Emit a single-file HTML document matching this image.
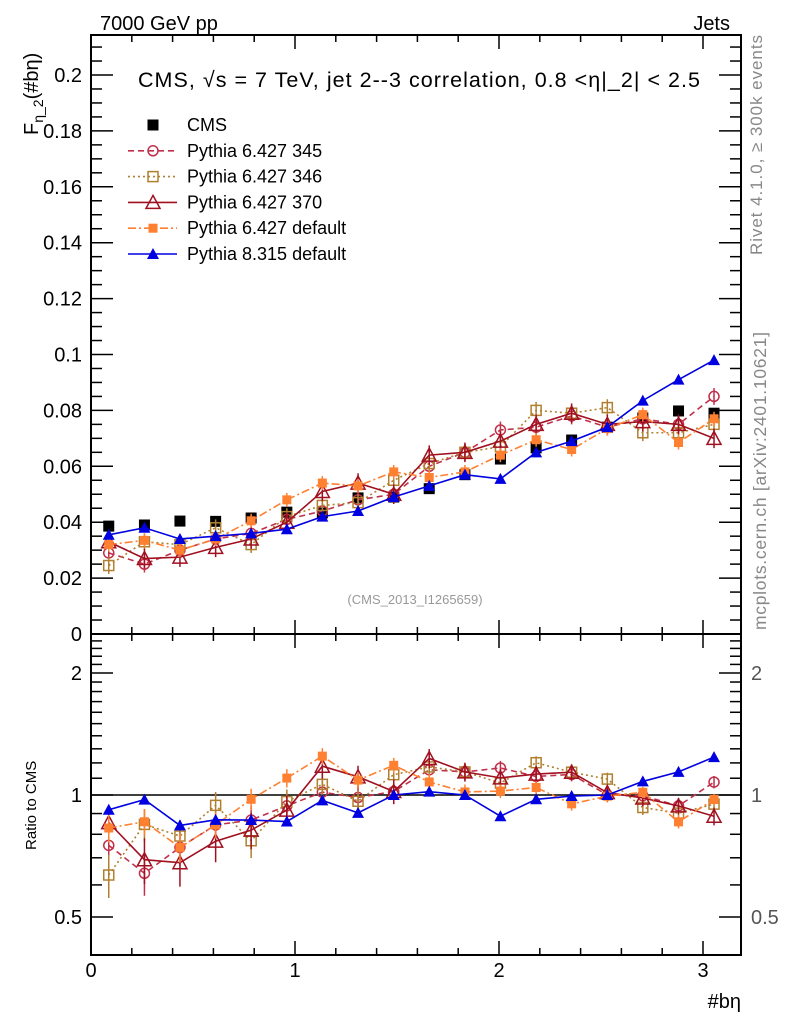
<!DOCTYPE html>
<html><head><meta charset="utf-8"><style>
body{margin:0;background:#fff}
svg{display:block;font-family:"Liberation Sans",sans-serif}
</style></head><body>
<svg id="c" width="786" height="1024" viewBox="0 0 786 1024">
<text x="100" y="30" font-size="20">7000 GeV pp</text>
<text x="730" y="30" font-size="20" text-anchor="end">Jets</text>
<text x="138" y="87" font-size="21.5" textLength="562">CMS, √s = 7 TeV, jet 2--3 correlation, 0.8 &lt;η|_2| &lt; 2.5</text>
<text x="415" y="604" font-size="13" fill="#999" text-anchor="middle">(CMS_2013_I1265659)</text>
<text transform="translate(762,255) rotate(-90)" font-size="17" fill="#888" textLength="220">Rivet 4.1.0, ≥ 300k events</text>
<text transform="translate(766,630) rotate(-90)" font-size="17.5" fill="#888" textLength="298">mcplots.cern.ch [arXiv:2401.10621]</text>
<text transform="translate(38,135) rotate(-90)" font-size="20">F<tspan font-size="14" dy="5">η_2</tspan><tspan dy="-5">(#bη)</tspan></text>
<text transform="translate(36,850) rotate(-90)" font-size="15">Ratio to CMS</text>
<text x="741" y="1008" font-size="20" text-anchor="end">#bη</text>
<g id="g"></g>
</svg>
<script>
const xCenters=[0.087,0.262,0.436,0.611,0.785,0.960,1.134,1.309,1.484,1.658,1.833,2.007,2.182,2.356,2.531,2.705,2.880,3.054];
const cms=[0.0386,0.039,0.0404,0.0403,0.0415,0.0436,0.0433,0.0487,0.049,0.052,0.057,0.0626,0.0666,0.0694,0.074,0.0773,0.0798,0.079];
const p345=[0.029,0.025,0.030,0.034,0.036,0.041,0.044,0.048,0.050,0.060,0.065,0.073,0.074,0.078,0.074,0.077,0.075,0.085];
const p346=[0.0245,0.033,0.032,0.038,0.032,0.042,0.046,0.047,0.055,0.061,0.065,0.067,0.080,0.079,0.081,0.072,0.072,0.075];
const p370=[0.033,0.027,0.0275,0.031,0.034,0.040,0.051,0.054,0.050,0.064,0.065,0.069,0.075,0.079,0.075,0.076,0.075,0.070];
const p6def=[0.032,0.0335,0.030,0.034,0.0405,0.048,0.054,0.053,0.058,0.056,0.058,0.064,0.0695,0.066,0.0735,0.0785,0.0685,0.077];
const p8def=[0.0355,0.038,0.034,0.035,0.036,0.0375,0.042,0.044,0.049,0.053,0.057,0.0555,0.065,0.069,0.074,0.0835,0.091,0.098];
const yTicks=[0,0.02,0.04,0.06,0.08,0.1,0.12,0.14,0.16,0.18,0.2];
const yTickLabels=["0","0.02","0.04","0.06","0.08","0.1","0.12","0.14","0.16","0.18","0.2"];
const xTicks=[0,1,2,3];
const rTicks=[0.5,1,2];
const errMC=[0.003,0.003,0.0035,0.0025,0.001];

const NS="http://www.w3.org/2000/svg";
const g=document.getElementById('g');
const X0=91,X1=741,T0=35,T1=634,B1=955;
const sx=v=>X0+v*204;
const sy=v=>634-v*2795;
const sr=v=>795-Math.log2(v)*122;
function el(t,a,p){const e=document.createElementNS(NS,t);for(const k in a)e.setAttribute(k,a[k]);(p||g).appendChild(e);return e;}

let f1=el('rect',{x:X0,y:T0,width:X1-X0,height:T1-T0,fill:'none',stroke:'#000','stroke-width':2});


let f2=el('rect',{x:X0,y:T1,width:X1-X0,height:B1-T1,fill:'none',stroke:'#000','stroke-width':2});


let ref=el('line',{x1:X0,x2:X1,y1:sr(1),y2:sr(1),stroke:'#000','stroke-width':1.5});



for(let v=0;v<=3.2;v+=0.2){
  const major=Math.abs(v-Math.round(v))<1e-6;const L=major?14:7;const x=sx(v);
  if(x>X1)break;
  for(const [yb,dir] of [[T1,-1],[T0,1],[B1,-1],[T1,1]]) el('line',{x1:x,x2:x,y1:yb,y2:yb+dir*L,stroke:'#000','stroke-width':1.5});
}
xTicks.forEach(v=>{const t=el('text',{x:sx(v),y:977,'font-size':20,'text-anchor':'middle'});t.textContent=v;

});
for(let v=0;v<=0.215;v+=0.005){const y=sy(v);const major=Math.abs(v/0.02-Math.round(v/0.02))<1e-6;const L=major?22:11;
  el('line',{x1:X0,x2:X0+L,y1:y,y2:y,stroke:'#000','stroke-width':1.5});
  el('line',{x1:X1,x2:X1-L,y1:y,y2:y,stroke:'#000','stroke-width':1.5});}
yTicks.forEach((v,i)=>{const t=el('text',{x:82,y:sy(v)+7,'font-size':20,'text-anchor':'end'});t.textContent=yTickLabels[i];

});
for(let v=0.4;v<=2.5;v+=0.1){const y=sr(v);if(y<T1||y>B1)continue;const major=[0.5,1,2].some(m=>Math.abs(m-v)<1e-6);const L=major?22:11;
  el('line',{x1:X0,x2:X0+L,y1:y,y2:y,stroke:'#000','stroke-width':1.5});
  el('line',{x1:X1,x2:X1-L,y1:y,y2:y,stroke:'#000','stroke-width':1.5});}
rTicks.forEach(v=>{let t=el('text',{x:82,y:sr(v)+7,'font-size':20,'text-anchor':'end'});t.textContent=v;


t=el('text',{x:751,y:sr(v)+7,'font-size':20,fill:'#555'});t.textContent=v;

});

function marker(p,type,x,y,col){
  if(type==='fsq')el('rect',{x:x-5.5,y:y-5.5,width:11,height:11,fill:col},p);
  else if(type==='osq')el('rect',{x:x-5,y:y-5,width:10,height:10,fill:'none',stroke:col,'stroke-width':1.5},p);
  else if(type==='oc')el('circle',{cx:x,cy:y,r:5,fill:'none',stroke:col,'stroke-width':1.5},p);
  else if(type==='otri')el('path',{d:`M${x} ${y-7}L${x+7} ${y+6}L${x-7} ${y+6}Z`,fill:'none',stroke:col,'stroke-width':1.5},p);
  else if(type==='ftri')el('path',{d:`M${x} ${y-6}L${x+6} ${y+5}L${x-6} ${y+5}Z`,fill:col},p);
  else if(type==='fsqs')el('rect',{x:x-4.5,y:y-4.5,width:9,height:9,fill:col},p);
}
const series=[
 {name:'pythia-6427-345',label:'Pythia 6.427 345',d:p345,col:'#c0304a',m:'oc',dash:'6,4'},
 {name:'pythia-6427-346',label:'Pythia 6.427 346',d:p346,col:'#b08030',m:'osq',dash:'2,3'},
 {name:'pythia-6427-370',label:'Pythia 6.427 370',d:p370,col:'#a01020',m:'otri',dash:''},
 {name:'pythia-6427-default',label:'Pythia 6.427 default',d:p6def,col:'#ff8030',m:'fsqs',dash:'8,3,2,3'},
 {name:'pythia-8315-default',label:'Pythia 8.315 default',d:p8def,col:'#0000e0',m:'ftri',dash:''}
];
const cg=el('g',{});


cms.forEach((v,i)=>marker(cg,'fsq',sx(xCenters[i]),sy(v),'#000'));
series.forEach((s,si)=>{
  const gg=el('g',{});
  
  
  const rg=el('g',{});
  
  
  const pts=s.d.map((v,i)=>[sx(xCenters[i]),sy(v)]);
  const rpts=s.d.map((v,i)=>[sx(xCenters[i]),sr(v/cms[i])]);
  el('polyline',{points:pts.map(p=>p.join(',')).join(' '),fill:'none',stroke:s.col,'stroke-width':1.6,'stroke-dasharray':s.dash},gg);
  el('polyline',{points:rpts.map(p=>p.join(',')).join(' '),fill:'none',stroke:s.col,'stroke-width':1.6,'stroke-dasharray':s.dash},rg);
  const e=errMC[si];
  s.d.forEach((v,i)=>{
    const x=sx(xCenters[i]);
    el('line',{x1:x,x2:x,y1:sy(v-e),y2:sy(v+e),stroke:s.col,'stroke-width':1.5},gg);
    const r=v/cms[i], re=e/cms[i];
    el('line',{x1:x,x2:x,y1:sr(Math.max(r-re,0.3)),y2:sr(r+re),stroke:s.col,'stroke-width':1.5},rg);
    marker(gg,s.m,x,sy(v),s.col);
    marker(rg,s.m,x,sr(r),s.col);
  });
});
const lg=el('g',{});


const ents=[{label:'CMS',col:'#000',m:'fsq',dash:null}].concat(series);
ents.forEach((s,i)=>{
  const y=125+i*25.8;
  const eg=el('g',{},lg);
  
  
  if(s.dash!==null)el('line',{x1:128,x2:177,y1:y,y2:y,stroke:s.col,'stroke-width':1.6,'stroke-dasharray':s.dash},eg);
  marker(eg,s.m,153,y,s.col);
  const t=el('text',{x:187,y:y+6,'font-size':18},eg);t.textContent=s.label;
});
</script>
</body></html>
